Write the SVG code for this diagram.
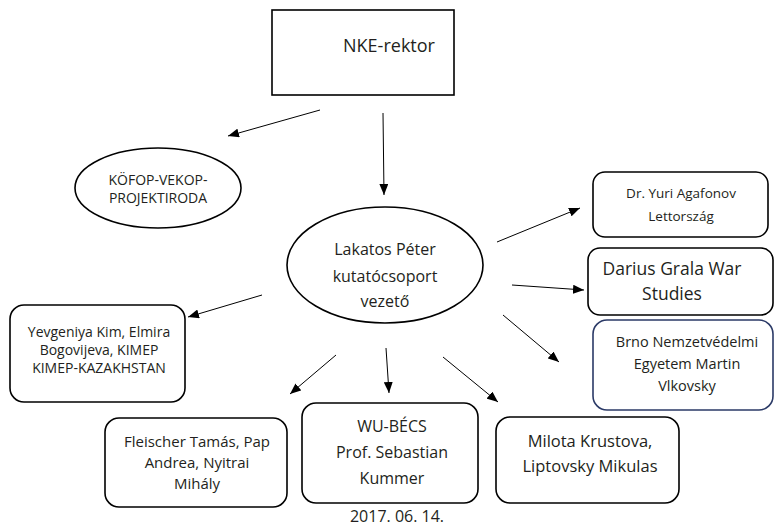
<svg xmlns="http://www.w3.org/2000/svg" width="775" height="528" viewBox="0 0 775 528">
<defs>
<marker id="ah" markerUnits="userSpaceOnUse" markerWidth="11" markerHeight="9" refX="11" refY="4.5" orient="auto">
<path d="M0,0 L11,4.5 L0,9 z" fill="#000"/>
</marker>
</defs>
<style>
text{font-family:"Open Sans","Liberation Sans",sans-serif;fill:#231f20;text-anchor:middle}
.box{fill:#fff;stroke:#000;stroke-width:1.6}
.navy{stroke:#2b3a67}
.c{fill:none;stroke:#000;stroke-width:1;marker-end:url(#ah)}
</style>
<rect width="775" height="528" fill="#fff"/>
<g id="connectors">
<path class="c" d="M320,110 L228,136"/>
<path class="c" d="M383,113 L384,195"/>
<path class="c" d="M497,242 L580,208"/>
<path class="c" d="M512,285 L584,290"/>
<path class="c" d="M503,315 L559,362"/>
<path class="c" d="M443,357 L498,402"/>
<path class="c" d="M386,348 L389,393"/>
<path class="c" d="M336,355 L290,394"/>
<path class="c" d="M262,295 L188,317"/>
</g>
<g id="nke">
<rect class="box" x="272" y="10" width="182" height="85"/>
<text x="389" y="52" font-size="18">NKE-rektor</text>
</g>
<g id="kofop">
<ellipse class="box" cx="158" cy="188" rx="83" ry="40"/>
<text x="158" y="185" font-size="14">KÖFOP-VEKOP-</text>
<text x="158" y="203" font-size="14">PROJEKTIRODA</text>
</g>
<g id="lakatos">
<ellipse class="box" cx="385" cy="265" rx="98" ry="58"/>
<text x="385" y="255" font-size="16">Lakatos Péter</text>
<text x="385" y="282" font-size="16">kutatócsoport</text>
<text x="385" y="307" font-size="16">vezető</text>
</g>
<g id="agafonov">
<rect class="box" x="593" y="172" width="175" height="65" rx="12"/>
<text x="681" y="198" font-size="13.5">Dr. Yuri Agafonov</text>
<text x="681" y="221" font-size="13.5">Lettország</text>
</g>
<g id="grala">
<rect class="box" x="588" y="248" width="185" height="67" rx="12"/>
<text x="672" y="275" font-size="17.5">Darius Grala War</text>
<text x="672" y="300" font-size="17.5">Studies</text>
</g>
<g id="brno">
<rect class="box navy" x="593" y="320" width="180" height="90" rx="14"/>
<text x="687" y="347" font-size="14.5">Brno Nemzetvédelmi</text>
<text x="687" y="369" font-size="14.5">Egyetem Martin</text>
<text x="687" y="391" font-size="14.5">Vlkovsky</text>
</g>
<g id="kimep">
<rect class="box" x="10" y="305" width="175" height="97" rx="14"/>
<text x="99" y="337" font-size="14">Yevgeniya Kim, Elmira</text>
<text x="99" y="355" font-size="14">Bogovijeva, KIMEP</text>
<text x="99" y="373" font-size="14">KIMEP-KAZAKHSTAN</text>
</g>
<g id="fleischer">
<rect class="box" x="105" y="418" width="182" height="89" rx="14"/>
<text x="197" y="447" font-size="15">Fleischer Tamás, Pap</text>
<text x="197" y="468" font-size="15">Andrea, Nyitrai</text>
<text x="197" y="489" font-size="15">Mihály</text>
</g>
<g id="wu">
<rect class="box" x="302" y="403" width="176" height="100" rx="14"/>
<text x="392" y="432" font-size="16">WU-BÉCS</text>
<text x="392" y="458" font-size="16">Prof. Sebastian</text>
<text x="392" y="484" font-size="16">Kummer</text>
</g>
<g id="milota">
<rect class="box" x="496" y="417" width="183" height="86" rx="14"/>
<text x="590" y="447" font-size="16.5">Milota Krustova,</text>
<text x="590" y="472" font-size="16.5">Liptovsky Mikulas</text>
</g>
<g id="date">
<text x="397" y="522" font-size="16">2017. 06. 14.</text>
</g>
</svg>
